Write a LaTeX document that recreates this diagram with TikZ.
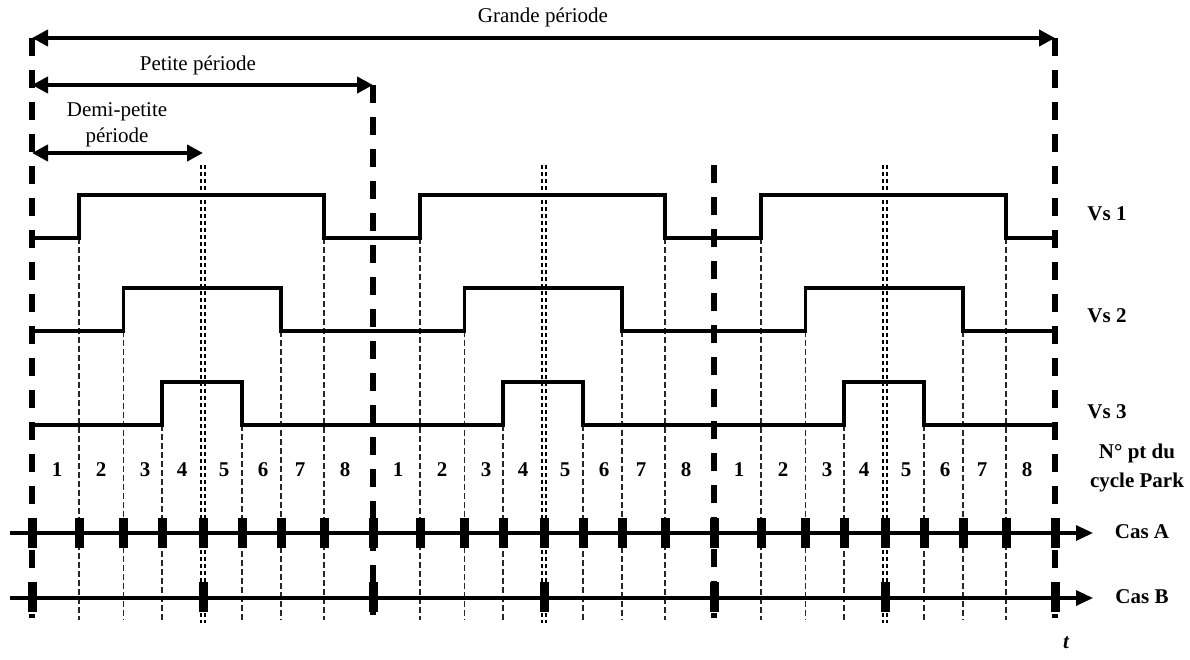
\documentclass[tikz,border=0pt]{standalone}
\usepackage{fontspec}
\setmainfont{Liberation Serif}
\usetikzlibrary{arrows.meta}
\begin{document}
\begin{tikzpicture}[x=1pt,y=-1pt,
  sig/.style={line width=3.3pt, line join=miter},
  bigdash/.style={line width=6pt, dash pattern=on 18pt off 14pt},
  thindash/.style={line width=1.1pt, black!85, dash pattern=on 6pt off 3pt},
  dbl/.style={line width=1.7pt, dash pattern=on 4pt off 3pt},
  axisline/.style={line width=3.2pt, -{Triangle[length=17pt,width=15pt]}},
  spanarrow/.style={line width=4.2pt, {Triangle[length=16pt,width=16pt]}-{Triangle[length=16pt,width=16pt]}},
  tickbar/.style={fill=black, draw=none, minimum width=9pt, minimum height=30pt, inner sep=0pt},
  lbl/.style={font=\fontsize{21}{25}\selectfont, inner sep=0pt},
  blbl/.style={font=\fontsize{21}{29}\selectfont\bfseries, inner sep=0pt, align=center},
]
\useasboundingbox (0,0) rectangle (1190,659);

% thin dashed guide lines
\foreach \b in {32,373,714}{
  \draw[thindash] (\b+47,238) -- (\b+47,620);
  \draw[thindash] (\b+91.5,331) -- (\b+91.5,620);
  \draw[thindash] (\b+130,425) -- (\b+130,620);
  \draw[thindash] (\b+210,425) -- (\b+210,620);
  \draw[thindash] (\b+249,331) -- (\b+249,620);
  \draw[thindash] (\b+292,238) -- (\b+292,620);
  % double dotted mid lines
  \draw[dbl] (\b+169.1,165) -- (\b+169.1,623);
  \draw[dbl] (\b+172.9,165) -- (\b+172.9,623);
}

% signals
\draw[sig] (32,238)
  \foreach \b in {32,373,714}{ -- (\b+47,238) -- (\b+47,195) -- (\b+292,195) -- (\b+292,238) -- (\b+341,238) };
\draw[sig] (32,331)
  \foreach \b in {32,373,714}{ -- (\b+91.5,331) -- (\b+91.5,288) -- (\b+249,288) -- (\b+249,331) -- (\b+341,331) };
\draw[sig] (32,425)
  \foreach \b in {32,373,714}{ -- (\b+130,425) -- (\b+130,382) -- (\b+210,382) -- (\b+210,425) -- (\b+341,425) };

% axes
\coordinate (a0) at (10,533);
\coordinate (a1) at (1093,533);
\coordinate (b0) at (10,598);
\coordinate (b1) at (1093,598);
\draw[axisline] (a0) -- (a1);
\draw[axisline] (b0) -- (b1);

% big dashed period lines
\coordinate (p0t) at (32,38);    \coordinate (p0b) at (32,618);
\coordinate (p1t) at (373,85);   \coordinate (p1b) at (373,618);
\coordinate (p2t) at (714,165);  \coordinate (p2b) at (714,618);
\coordinate (p3t) at (1055,38);  \coordinate (p3b) at (1055,618);
\draw[bigdash] (p0t) -- (p0b);
\draw[bigdash] (p1t) -- (p1b);
\draw[bigdash] (p2t) -- (p2b);
\draw[bigdash] (p3t) -- (p3b);

% ticks Cas A
\foreach \b [count=\k] in {32,373,714}{
  \foreach \o [count=\i] in {0,47,91.5,130,171,210,249,292}{
    \node[tickbar] (ta-\k-\i) at (\b+\o,533) {};
  }
  \node[tickbar] (tb-\k-1) at (\b,597) {};
  \node[tickbar] (tb-\k-2) at (\b+171,597) {};
}
\node[tickbar] (ta-end) at (1055,533) {};
\node[tickbar] (tb-end) at (1055,597) {};

% period arrows
\coordinate (g0) at (32,38);  \coordinate (g1) at (1055,38);
\coordinate (s0) at (32,85);  \coordinate (s1) at (373,85);
\coordinate (d0) at (32,153); \coordinate (d1) at (203,153);
\draw[spanarrow] (g0) -- (g1);
\draw[spanarrow] (s0) -- (s1);
\draw[spanarrow] (d0) -- (d1);
\node[lbl] (gl) at (543,17) {Grande période};
\node[lbl] (sl) at (198,65) {Petite période};
\node[lbl] (dl1) at (117,112) {Demi-petite};
\node[lbl] (dl2) at (117,137) {période};

% cell numbers
\foreach \b [count=\k] in {32,373,714}{
  \foreach \c [count=\i] in {25,69,113,150,192,231,268,313}{
    \node[blbl] (n-\k-\i) at (\b+\c,470) {\i};
  }
}

% right labels
\node[blbl] (v1) at (1107,214) {Vs 1};
\node[blbl] (v2) at (1107,316) {Vs 2};
\node[blbl] (v3) at (1107,412) {Vs 3};
\node[blbl] (np) at (1137,468) {N° pt du\\cycle Park};
\node[blbl] (ca) at (1142,532) {Cas A};
\node[blbl] (cb) at (1142,597) {Cas B};
\node[blbl, font=\fontsize{21}{25}\selectfont\bfseries\itshape] (tt) at (1066,643) {t};
\end{tikzpicture}
\end{document}
